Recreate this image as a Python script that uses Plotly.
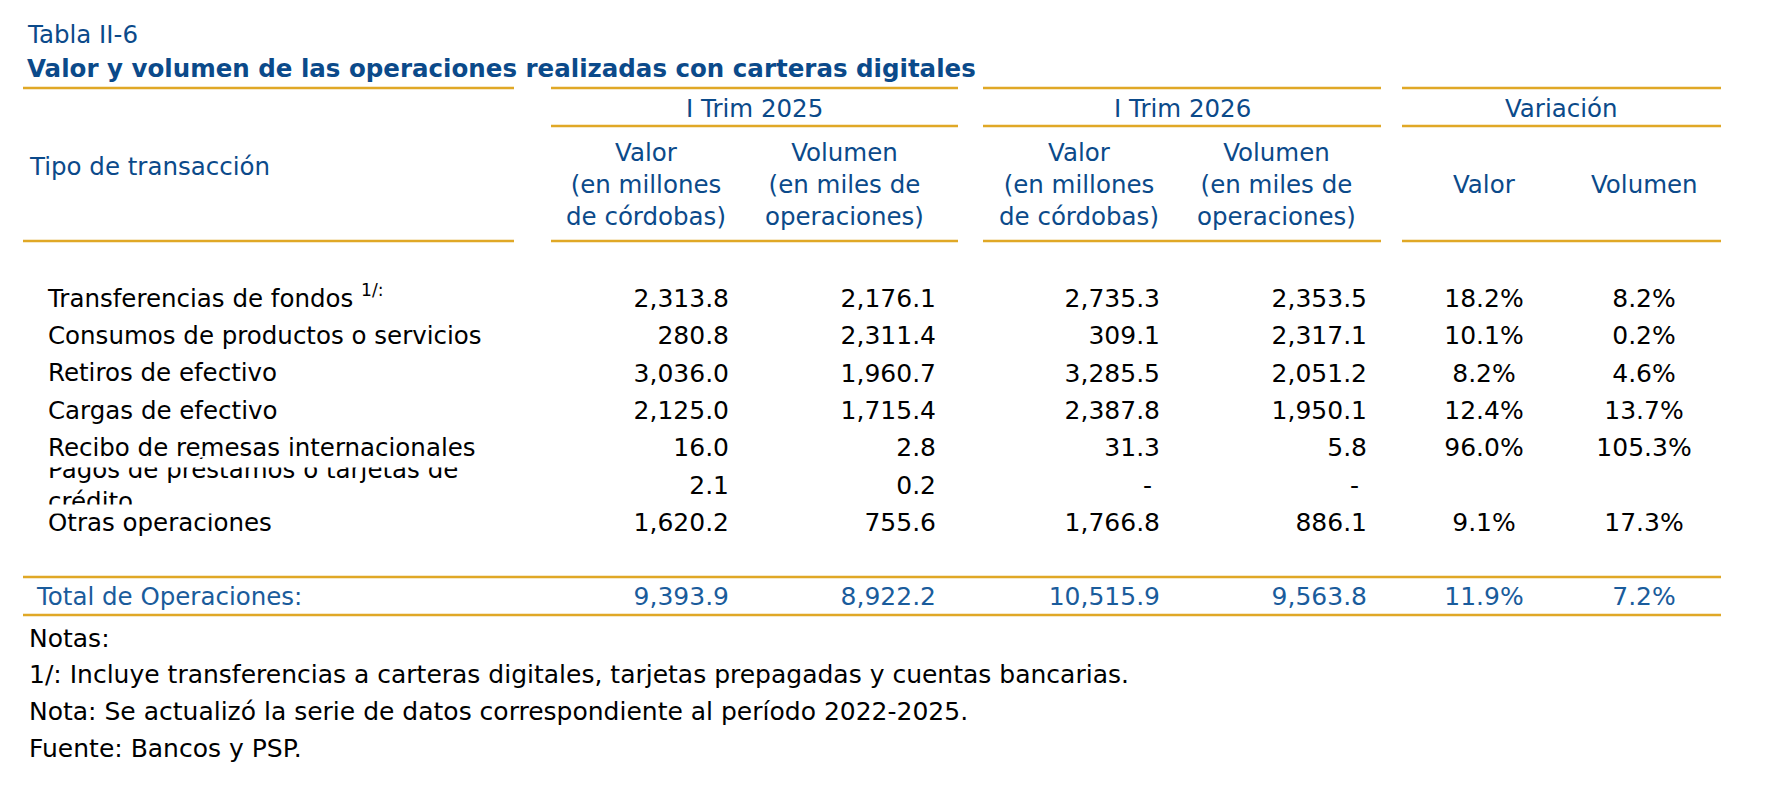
import plotly.graph_objects as go

tipos = [
    "Transferencias de fondos <sup>1/:</sup>",
    "Consumos de productos o servicios",
    "Retiros de efectivo",
    "Cargas de efectivo",
    "Recibo de remesas internacionales",
    "Pagos de préstamos o tarjetas de<br>crédito",
    "Otras operaciones",
]
valor_2025 = [2313.8, 280.8, 3036.0, 2125.0, 16.0, 2.1, 1620.2]
volumen_2025 = [2176.1, 2311.4, 1960.7, 1715.4, 2.8, 0.2, 755.6]
valor_2026 = [2735.3, 309.1, 3285.5, 2387.8, 31.3, None, 1766.8]
volumen_2026 = [2353.5, 2317.1, 2051.2, 1950.1, 5.8, None, 886.1]
var_valor = [18.2, 10.1, 8.2, 12.4, 96.0, None, 9.1]
var_volumen = [8.2, 0.2, 4.6, 13.7, 105.3, None, 17.3]

total_label = "Total de Operaciones:"
total_montos = [9393.9, 8922.2, 10515.9, 9563.8]
total_var = [11.9, 7.2]

grupos = ["I Trim 2025", "I Trim 2026", "Variación"]
sub_headers = ["Valor<br>(en millones<br>de córdobas)", "Volumen<br>(en miles de<br>operaciones)",
               "Valor<br>(en millones<br>de córdobas)", "Volumen<br>(en miles de<br>operaciones)",
               "Valor", "Volumen"]
notas = [
    "Notas:",
    "1/: Incluye transferencias a carteras digitales, tarjetas prepagadas y cuentas bancarias.",
    "Nota: Se actualizó la serie de datos correspondiente al período 2022-2025.",
    "Fuente: Bancos y PSP.",
]

# ---- layout constants (pixel units on hidden axes) ----
W, H = 1772, 786
PAD = 8  # page body margin, shift the axes so pixels line up with the screenshot
FONT = "DejaVu Sans"
FS = 24.5
FS_NUM = 25
BLUE = "#0B4A8A"
BLUE2 = "#1A5C9C"
GOLD = "#E0A826"

row0, row_step = 300.5, 37.4
rows_y = [row0 + i * row_step for i in range(len(tipos))]
num_right = [729, 936, 1160, 1367]
pct_center = [1484, 1644]
sub_center = [646, 844, 1079, 1276, 1484, 1644]
group_span = [(551, 958), (983, 1381), (1402, 1721)]
label_x = 48


def fmt_num(v):
    return "-\u00a0" if v is None else f"{v:,.1f}"


def fmt_pct(v):
    return "" if v is None else f"{v:.1f}%"


fig = go.Figure()

txt = dict(mode="text", cliponaxis=False, showlegend=False, hoverinfo="skip")

fig.add_trace(go.Scatter(x=[label_x] * len(tipos), y=rows_y, text=tipos,
                         textposition="middle right",
                         textfont=dict(family=FONT, size=FS, color="black"), **txt))

for xr, vals in zip(num_right, [valor_2025, volumen_2025, valor_2026, volumen_2026]):
    fig.add_trace(go.Scatter(x=[xr] * len(vals), y=rows_y, text=[fmt_num(v) for v in vals],
                             textposition="middle left",
                             textfont=dict(family=FONT, size=FS_NUM, color="black"), **txt))

for xc, vals in zip(pct_center, [var_valor, var_volumen]):
    fig.add_trace(go.Scatter(x=[xc] * len(vals), y=rows_y, text=[fmt_pct(v) for v in vals],
                             textposition="middle center",
                             textfont=dict(family=FONT, size=FS_NUM, color="black"), **txt))

# total row
total_y = 599
fig.add_trace(go.Scatter(x=[37], y=[total_y], text=[total_label], textposition="middle right",
                         textfont=dict(family=FONT, size=FS, color=BLUE2), **txt))
fig.add_trace(go.Scatter(x=num_right, y=[total_y] * 4, text=[fmt_num(v) for v in total_montos],
                         textposition="middle left",
                         textfont=dict(family=FONT, size=FS_NUM, color=BLUE2), **txt))
fig.add_trace(go.Scatter(x=pct_center, y=[total_y] * 2, text=[fmt_pct(v) for v in total_var],
                         textposition="middle center",
                         textfont=dict(family=FONT, size=FS_NUM, color=BLUE2), **txt))

shapes = []
# clip the wrapped "Pagos" label like the fixed-height cell in the original
pagos_y = rows_y[5]
for y0, y1 in [(pagos_y - 28.5, pagos_y - 20), (pagos_y + 17, pagos_y + 26)]:
    shapes.append(dict(type="rect", xref="x", yref="y", x0=40, x1=520, y0=y0, y1=y1,
                       fillcolor="white", line_width=0, layer="above"))

gold = dict(color=GOLD, width=2.5)
col0 = (23, 514)
for y in [88, 241]:
    for a, b in [col0] + group_span:
        shapes.append(dict(type="line", xref="x", yref="y", x0=a, x1=b, y0=y, y1=y, line=gold))
for a, b in group_span:
    shapes.append(dict(type="line", xref="x", yref="y", x0=a, x1=b, y0=126, y1=126, line=gold))
for y in [577, 615]:
    shapes.append(dict(type="line", xref="x", yref="y", x0=23, x1=1721, y0=y, y1=y, line=gold))

ann = []


def add_text(x, y, s, color=BLUE, anchor="left", bold=False, size=FS):
    ann.append(dict(x=x, y=y, xref="x", yref="y", text=f"<b>{s}</b>" if bold else s,
                    showarrow=False, xanchor=anchor, yanchor="middle",
                    font=dict(family=FONT, size=size, color=color), align="center"))


add_text(25, 34, "Tabla II-6")
add_text(25, 68, "Valor y volumen de las operaciones realizadas con carteras digitales", bold=True)
add_text(27, 166, "Tipo de transacción")
for (a, b), g in zip(group_span, grupos):
    add_text((a + b) / 2, 108, g, anchor="center")
for xc, s in zip(sub_center, sub_headers):
    add_text(xc, 184, s, anchor="center")
for i, s in enumerate(notas):
    add_text(27, 638 + i * 36.8, s, color="black", size=25)

fig.update_layout(
    width=W, height=H,
    margin=dict(l=0, r=0, t=0, b=0),
    paper_bgcolor="white", plot_bgcolor="white",
    xaxis=dict(range=[PAD, W + PAD], visible=False, fixedrange=True),
    yaxis=dict(range=[H + PAD, PAD], visible=False, fixedrange=True),
    shapes=shapes, annotations=ann,
)

fig.write_html("out.html")
